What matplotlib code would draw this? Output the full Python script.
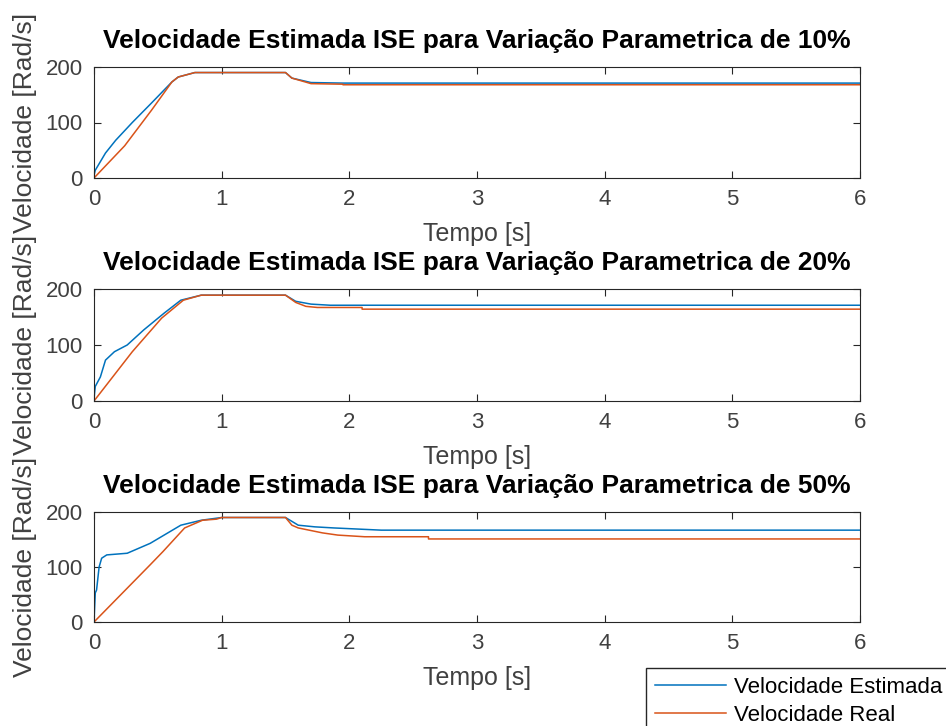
import matplotlib
matplotlib.use("Agg")
import matplotlib.pyplot as plt

plt.rcParams['font.family'] = ['Liberation Sans', 'DejaVu Sans']

# Time [s] and speed [rad/s] samples for each parametric variation
t_est_10 = [0, 0.01, 0.09, 0.17, 0.30, 0.45, 0.61, 0.66, 0.79, 1.50, 1.55, 1.70, 1.95, 6.0]
v_est_10 = [5, 14, 45, 68, 100, 135, 173, 182, 190, 190, 180, 172, 171, 171]
t_real_10 = [0, 0.24, 0.45, 0.61, 0.66, 0.79, 1.50, 1.55, 1.70, 1.95, 1.95, 6.0]
v_real_10 = [0, 58, 122, 173, 182, 190, 190, 180, 170, 169, 168, 168]

t_est_20 = [0, 0.01, 0.05, 0.09, 0.16, 0.26, 0.39, 0.55, 0.68, 0.84, 1.50, 1.58, 1.70, 1.85, 6.0]
v_est_20 = [5, 26, 43, 73, 88, 100, 127, 157, 180, 189, 189, 178, 173, 171, 171]
t_real_20 = [0, 0.30, 0.53, 0.70, 0.84, 1.50, 1.58, 1.66, 1.75, 2.10, 2.10, 6.0]
v_real_20 = [0, 88, 148, 180, 189, 189, 176, 169, 167, 167, 164, 164]

t_est_50 = [0, 0.01, 0.02, 0.04, 0.06, 0.10, 0.26, 0.44, 0.68, 0.84, 1.00, 1.50, 1.60, 1.73, 1.88, 2.25, 6.0]
v_est_50 = [0, 53, 58, 100, 116, 122, 125, 143, 176, 185, 190, 190, 176, 173, 171, 167, 167]
t_real_50 = [0, 0.44, 0.54, 0.71, 0.85, 0.96, 1.00, 1.50, 1.55, 1.60, 1.79, 1.91, 2.12, 2.62, 2.62, 6.0]
v_real_50 = [0, 104, 128, 171, 185, 187, 190, 190, 176, 171, 162, 158, 155, 155, 151, 151]

variations = ["10%", "20%", "50%"]
series = [
    (t_est_10, v_est_10, t_real_10, v_real_10),
    (t_est_20, v_est_20, t_real_20, v_real_20),
    (t_est_50, v_est_50, t_real_50, v_real_50),
]

x_ticks = [0, 1, 2, 3, 4, 5, 6]
y_ticks = [0, 100, 200]

BLUE = "#0072BD"
ORANGE = "#D95319"
AXC = "#262626"
TXC = "#404040"

fig = plt.figure(figsize=(9.46, 7.26), dpi=100)
W, H = 946, 726
boxes = [(67, 178), (289, 401), (512, 622)]
left, right = 94, 860

for (top, bot), var, (te, ve, tr, vr) in zip(boxes, variations, series):
    ax = fig.add_axes([left / W, 1 - bot / H, (right - left) / W, (bot - top) / H])
    l1, = ax.plot(te, ve, color=BLUE, lw=1.1, label="Velocidade Estimada")
    l2, = ax.plot(tr, vr, color=ORANGE, lw=1.1, label="Velocidade Real")
    ax.set_xlim(0, 6)
    ax.set_ylim(0, 200)
    ax.set_xticks(x_ticks)
    ax.set_yticks(y_ticks)
    ax.tick_params(direction="in", top=True, right=True, labelsize=16,
                   color=AXC, labelcolor=TXC, length=5, width=0.8)
    ax.tick_params(axis="x", pad=8)
    ax.tick_params(axis="y", pad=8)
    for sp in ax.spines.values():
        sp.set_color(AXC)
        sp.set_linewidth(0.8)
    ax.set_title(f"Velocidade Estimada ISE para Variação Parametrica de {var}",
                 fontsize=19, fontweight="bold", color="black", pad=13.5)
    ax.set_xlabel("Tempo [s]", fontsize=18, color=TXC, labelpad=8.5)
    ax.set_ylabel("Velocidade [Rad/s]", fontsize=19, color=TXC)
    ax.yaxis.set_label_coords((37 - left) / (right - left), 0.5)

fig.legend([l1, l2], ["Velocidade Estimada", "Velocidade Real"],
           loc="upper left", bbox_to_anchor=(646 / W, 1 - 668 / H),
           borderaxespad=0, fontsize=16, frameon=True, fancybox=False,
           edgecolor=AXC, framealpha=1, handlelength=3.2, handletextpad=0.35,
           borderpad=0.4, labelspacing=0.3)

fig.savefig("out.png", dpi=100)
